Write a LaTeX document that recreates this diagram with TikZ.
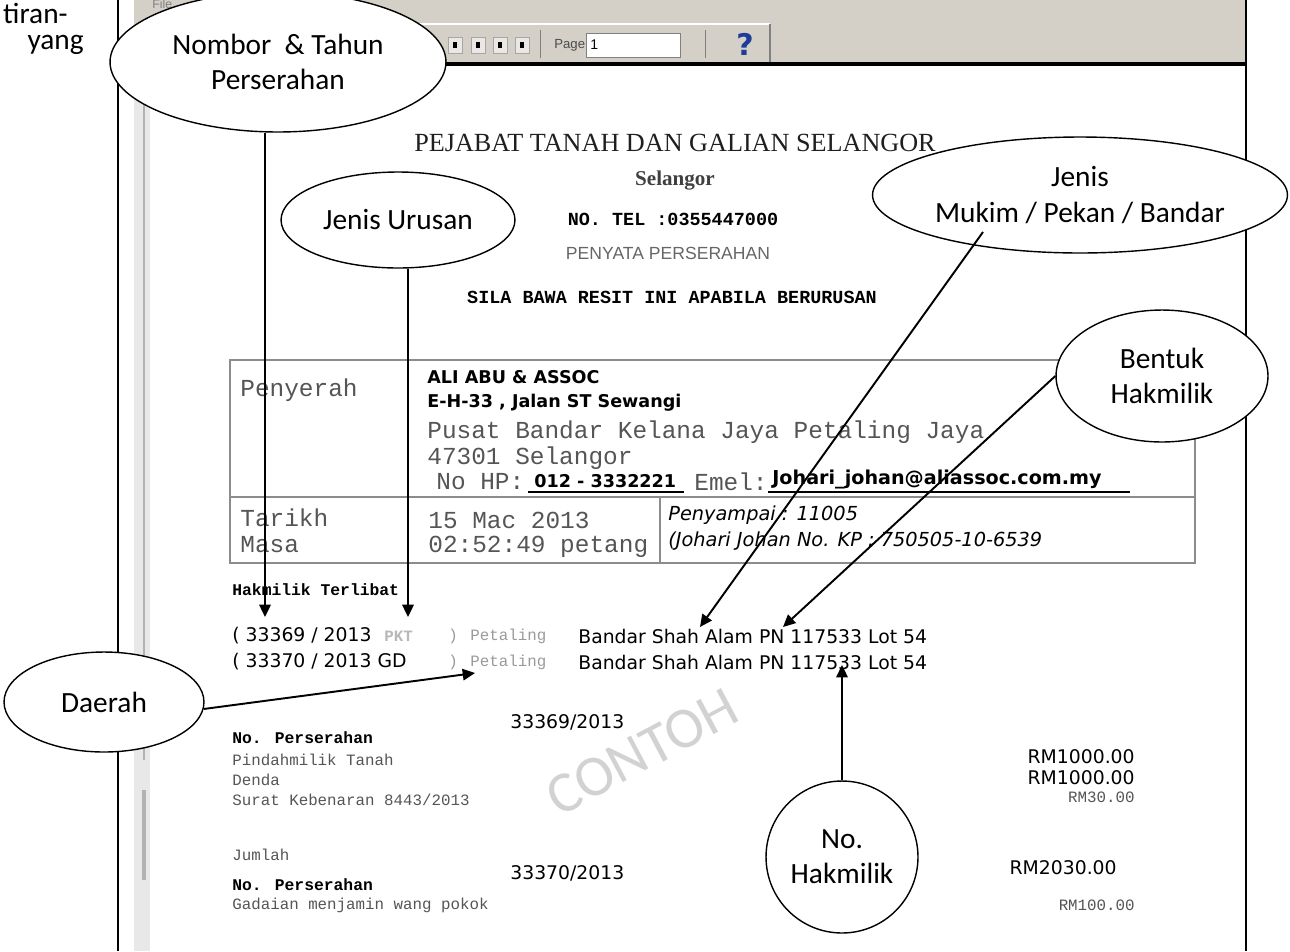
\documentclass[tikz,border=0pt]{standalone}
\usepackage{fontspec}
\setmainfont{Carlito}
\newfontfamily\monofont{Liberation Mono}
\newfontfamily\seriffont{Liberation Serif}
\newfontfamily\verdfont{DejaVu Sans}
\newfontfamily\arfont{Liberation Sans}
\usetikzlibrary{shapes.geometric,arrows.meta}
\definecolor{toolgray}{HTML}{D4D0C8}
\definecolor{inkgray}{HTML}{555555}
\definecolor{faintink}{HTML}{9A9A9A}
\definecolor{rulegray}{HTML}{8C8C8C}
\definecolor{helpblue}{HTML}{1F3C9A}
\definecolor{markgray}{HTML}{D2D2D2}
\begin{document}
\begin{tikzpicture}[x=0.02cm,y=-0.02cm,
  callout/.style={draw,ellipse,fill=white,line width=0.8pt,inner sep=0pt,align=center,font=\fontsize{16.7}{20}\selectfont},
  pointer/.style={line width=1.1pt,-{Triangle[length=7pt,width=6.5pt]}},
  txt/.style={anchor=west,inner sep=0pt},
  mono/.style={txt,text=inkgray,font=\monofont\fontsize{13.9}{16}\selectfont},
  smallmono/.style={txt,text=inkgray,font=\monofont\fontsize{9}{11}\selectfont},
  boldmono/.style={txt,font=\monofont\bfseries\fontsize{9.3}{11}\selectfont},
  sans/.style={txt,font=\verdfont\fontsize{10.7}{13}\selectfont},
  boldsans/.style={txt,font=\verdfont\bfseries\fontsize{10}{12}\selectfont}]
\useasboundingbox (0,0) rectangle (1290,951);
\clip (0,0) rectangle (1290,951);

\node[anchor=east,inner sep=0pt,font=\fontsize{16.7}{20}\selectfont] (cuttop) at (68,13) {tiran-};
\node[anchor=east,inner sep=0pt,font=\fontsize{16.7}{20}\selectfont] (cutbot) at (84,45) {yang};

\fill[toolgray] (134,0) rectangle (1246,62);
\fill[gray!18] (134,62) rectangle (150,951);
\draw[gray!60,line width=1.6pt] (144,95) -- (144,760);
\draw[gray!60,line width=2.4pt] (144,790) -- (144,880);
\draw[line width=1.1pt] (118,0) -- (118,951);
\draw[line width=1.1pt] (1246,0) -- (1246,951);
\draw[line width=2.3pt] (150,64) -- (1246,64);

\node[txt,text=gray,font=\arfont\fontsize{7}{8}\selectfont] (filemenu) at (152,4) {File};
\draw[white,line width=0.6pt] (300,24) -- (770,24);
\draw[gray,line width=0.6pt] (770,24) -- (770,62);
\foreach \bx in {455,478,500,522}{
  \draw[gray!70,fill=toolgray!50!white] (\bx-7,37) rectangle (\bx+7,53);
  \fill (\bx-2,42) rectangle (\bx+2,48);
}
\draw[gray] (540,30) -- (540,58);
\draw[gray] (705,30) -- (705,58);
\node[txt,text=black!70,font=\arfont\fontsize{7.5}{9}\selectfont] (pagelabel) at (554,45) {Page:};
\draw[gray,fill=white] (586,33) rectangle (680,57);
\node[txt,font=\arfont\fontsize{8}{9}\selectfont] (pagenum) at (590,45) {1};
\node[text=helpblue,font=\verdfont\bfseries\fontsize{17}{20}\selectfont] (help) at (745,44) {?};

\node[text=black!88,font=\seriffont\fontsize{14.9}{17}\selectfont] (office) at (675,143) {PEJABAT TANAH DAN GALIAN SELANGOR};
\node[text=black!75,font=\seriffont\bfseries\fontsize{12}{14}\selectfont] (state) at (675,181) {Selangor};
\node[font=\monofont\bfseries\fontsize{10.5}{12}\selectfont] (tel) at (673,219) {NO. TEL :0355447000};
\node[text=black!60,font=\arfont\fontsize{10}{12}\selectfont] (title) at (668,253) {PENYATA PERSERAHAN};
\node[font=\monofont\bfseries\fontsize{10.5}{12}\selectfont] (notice) at (672,297) {SILA BAWA RESIT INI APABILA BERURUSAN};

\draw[rulegray,line width=1.3pt] (230,360) rectangle (1195,563);
\draw[rulegray,line width=1.3pt] (230,497) -- (1195,497);
\draw[rulegray,line width=1.3pt] (408,360) -- (408,563);
\draw[rulegray,line width=1.3pt] (660,497) -- (660,563);

\node[mono] (penyerah) at (240,390) {Penyerah};
\node[boldsans] (firm) at (427,377) {ALI ABU \& ASSOC};
\node[boldsans] (street) at (427,403) {E-H-33 , Jalan ST Sewangi};
\node[mono] (town) at (427,432) {Pusat Bandar Kelana Jaya Petaling Jaya};
\node[mono] (postcode) at (427,458) {47301 Selangor};
\node[mono] (hplabel) at (436,482) {No HP:};
\node[boldsans] (phone) at (534,481) {012 - 3332221};
\draw[line width=0.6pt] (528,492) -- (684,492);
\node[mono] (emellabel) at (694,482) {Emel:};
\node[txt,font=\verdfont\bfseries\fontsize{10.9}{13}\selectfont] (email) at (772,479) {Johari\_johan@aliassoc.com.my};
\draw[line width=0.6pt] (768,492) -- (1130,492);
\node[mono] (tarikh) at (240,518) {Tarikh};
\node[mono] (masa) at (240,545) {Masa};
\node[mono] (tarikhval) at (428,520) {15 Mac 2013};
\node[mono] (masaval) at (428,547) {02:52:49 petang};
\node[txt,font=\verdfont\itshape\fontsize{11}{13}\selectfont] (penyampai) at (668,515) {Penyampai : 11005};
\node[txt,font=\verdfont\itshape\fontsize{11}{13}\selectfont] (pengenalan) at (668,541) {(Johari Johan No. KP : 750505-10-6539};

\node[boldmono] (terlibat) at (232,590) {Hakmilik Terlibat};
\node[sans] (rowa) at (232,636) {( 33369 / 2013};
\node[txt,text=faintink!70,font=\monofont\bfseries\fontsize{9}{11}\selectfont] (rowatype) at (384,636) {PKT};
\node[smallmono,text=faintink] (rowaclose) at (448,636) {)};
\node[smallmono,text=faintink] (rowadaerah) at (470,636) {Petaling};
\node[sans] (rowalot) at (578,636) {Bandar Shah Alam PN 117533 Lot 54};
\node[sans] (rowb) at (232,662) {( 33370 / 2013 GD};
\node[smallmono,text=faintink] (rowbclose) at (448,662) {)};
\node[smallmono,text=faintink] (rowbdaerah) at (470,662) {Petaling};
\node[sans] (rowblot) at (578,662) {Bandar Shah Alam PN 117533 Lot 54};

\node[rotate=28,text=markgray,font=\fontsize{33}{36}\selectfont] (mark) at (642,752) {CONTOH};

\node[boldmono] (persa) at (232,738) {No. Perserahan};
\node[sans] (persaval) at (510,722) {33369/2013};
\node[smallmono] (pindah) at (232,760) {Pindahmilik Tanah};
\node[smallmono] (denda) at (232,780) {Denda};
\node[smallmono] (surat) at (232,800) {Surat Kebenaran  8443/2013};
\node[smallmono] (jumlah) at (232,855) {Jumlah};
\node[boldmono] (persb) at (232,885) {No. Perserahan};
\node[sans] (persbval) at (510,873) {33370/2013};
\node[smallmono] (gadaian) at (232,905) {Gadaian menjamin wang pokok};
\node[sans,anchor=east] (amta) at (1135,757) {RM1000.00};
\node[sans,anchor=east] (amtb) at (1135,778) {RM1000.00};
\node[smallmono,anchor=east] (amtc) at (1135,797) {RM30.00};
\node[sans,anchor=east] (amtsum) at (1117,868) {RM2030.00};
\node[smallmono,anchor=east] (amtd) at (1135,905) {RM100.00};

\node[callout,minimum width=6.72cm,minimum height=2.8cm] (nombor) at (278,62) {Nombor\ \ \& Tahun\\Perserahan};
\node[callout,minimum width=4.68cm,minimum height=1.92cm] (urusan) at (398,220) {Jenis Urusan};
\node[callout,minimum width=8.3cm,minimum height=2.32cm] (mukim) at (1080,195) {Jenis\\Mukim / Pekan / Bandar};
\node[callout,minimum width=4.24cm,minimum height=2.64cm] (bentuk) at (1162,376) {Bentuk\\Hakmilik};
\node[callout,minimum width=4cm,minimum height=2cm] (daerah) at (104,702) {Daerah};
\node[callout,circle,minimum size=3.04cm] (nohak) at (842,857) {No.\\Hakmilik};

\coordinate (nombortip) at (265,617);
\coordinate (urusantip) at (408,617);
\coordinate (mukimfoot) at (983,232);
\coordinate (alamtip) at (700,627);
\coordinate (pntip) at (783,627);
\coordinate (petalingtip) at (475,673);
\coordinate (lottip) at (842,665);

\draw[pointer] (nombor.south -| nombortip) -- (nombortip);
\draw[pointer] (urusan.south -| urusantip) -- (urusantip);
\draw[pointer] (mukimfoot) -- (alamtip);
\draw[pointer] (bentuk.west) -- (pntip);
\draw[pointer] (daerah.-4) -- (petalingtip);
\draw[pointer] (nohak.north) -- (lottip);
\end{tikzpicture}
\end{document}
